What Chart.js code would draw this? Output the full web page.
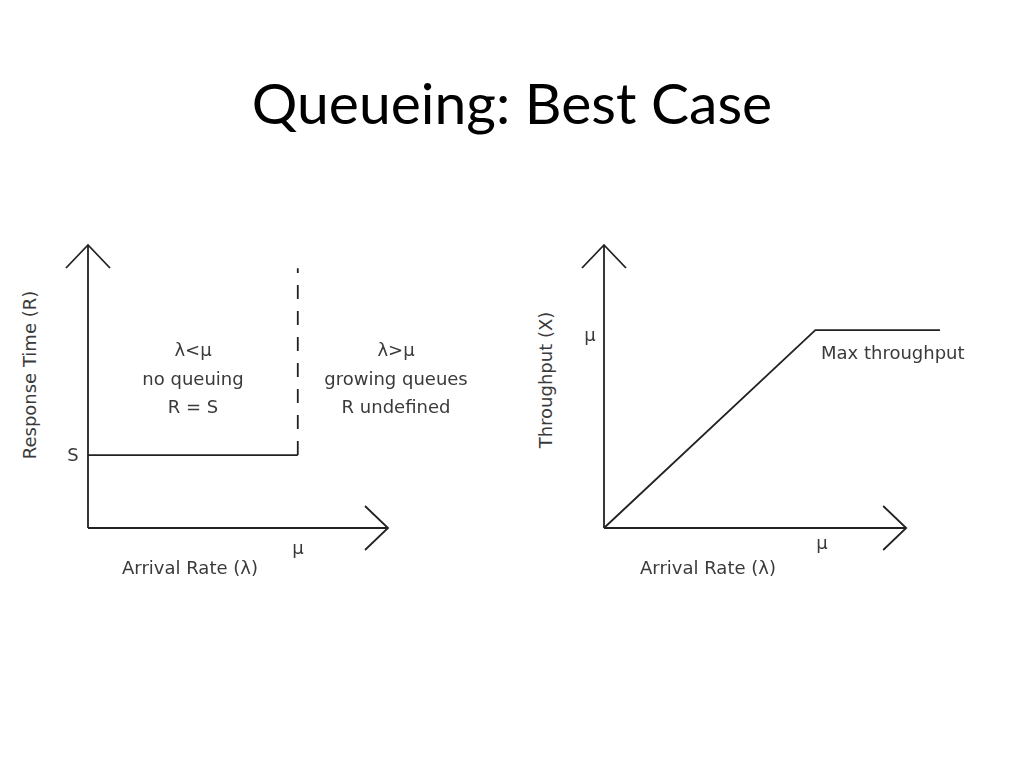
<!DOCTYPE html>
<html><head><meta charset="utf-8">
<script src="https://cdn.jsdelivr.net/npm/chart.js@4"></script>
<style>
body{margin:0;width:1024px;height:768px;background:#fff;position:relative;font-family:"DejaVu Sans",sans-serif;overflow:hidden}
canvas{position:absolute}
.t{position:absolute;color:#3a3a3a;font-size:18px;white-space:nowrap;transform:translate(-50%,-50%);line-height:1}
.l{transform:translate(0,-50%)}
.r{transform:translate(-50%,-50%) rotate(-90deg)}
h1{position:absolute;top:68px;left:0;width:1024px;margin:0;text-align:center;font-family:Lato,"Open Sans",sans-serif;font-weight:400;font-size:57px;color:#000}
</style></head><body>
<h1>Queueing: Best Case</h1>
<div style="position:absolute;left:58px;top:215px;width:360px;height:343px"><canvas id="c1"></canvas></div>
<div style="position:absolute;left:574px;top:215px;width:396px;height:343px"><canvas id="c2"></canvas></div>
<div class="t r" style="left:30px;top:375px">Response Time (R)</div>
<div class="t" style="left:73px;top:455px">S</div>
<div class="t" style="left:193px;top:350px">λ&lt;μ</div>
<div class="t" style="left:193px;top:379px">no queuing</div>
<div class="t" style="left:193px;top:407px">R = S</div>
<div class="t" style="left:396px;top:350px">λ&gt;μ</div>
<div class="t" style="left:396px;top:379px">growing queues</div>
<div class="t" style="left:396px;top:407px">R undefined</div>
<div class="t" style="left:298px;top:548px">μ</div>
<div class="t" style="left:190px;top:568px">Arrival Rate (λ)</div>
<div class="t r" style="left:546px;top:380px">Throughput (X)</div>
<div class="t" style="left:590px;top:335px">μ</div>
<div class="t l" style="left:821px;top:353px">Max throughput</div>
<div class="t" style="left:822px;top:543px">μ</div>
<div class="t" style="left:708px;top:568px">Arrival Rate (λ)</div>
<script>
// Left chart (response time)
const leftX = [0, 1];          // arrival rate (μ = 1)
const leftR = [1, 1];          // response time = S
const dashX = [1, 1];
const dashR = [1, 3.56];
const leftXMax = 1.43, leftYMax = 3.88, leftArrowX = 1.43, leftArrowY = 3.88;
// Right chart (throughput)
const rightX = [0, 1, 1.59];
const rightT = [0, 1, 1];
const rightXMax = 1.59, rightYMax = 1.43, rightArrowX = 1.43, rightArrowY = 1.43;

const arrows = ax => ({
  id:'arrows',
  afterDraw(ch){
    const c=ch.ctx,x=ch.scales.x,y=ch.scales.y;
    const x0=x.getPixelForValue(0),y0=y.getPixelForValue(0);
    const xt=x.getPixelForValue(ax[0]),yt=y.getPixelForValue(ax[1]);
    c.save();c.strokeStyle='#222';c.lineWidth=1.8;c.beginPath();
    c.moveTo(x0,y0);c.lineTo(x0,yt);c.moveTo(x0-22,yt+23);c.lineTo(x0,yt);c.lineTo(x0+22,yt+23);
    c.moveTo(x0,y0);c.lineTo(xt,y0);c.moveTo(xt-23,y0-22);c.lineTo(xt,y0);c.lineTo(xt-23,y0+22);
    c.stroke();c.restore();
  }
});
function mk(id, sets, xmax, ymax, ax){
  new Chart(document.getElementById(id),{
    type:'scatter',
    data:{datasets:sets},
    options:{responsive:true,maintainAspectRatio:false,animation:false,
      layout:{padding:30},
      plugins:{legend:{display:false},tooltip:{enabled:false}},
      scales:{x:{type:'linear',min:0,max:xmax,display:false},y:{type:'linear',min:0,max:ymax,display:false}}},
    plugins:[arrows(ax)]
  });
}
const ds=(xs,ys,extra)=>Object.assign({data:xs.map((v,i)=>({x:v,y:ys[i]})),showLine:true,pointRadius:0,borderColor:'#222',borderWidth:1.8,clip:false},extra||{});
mk('c1',[ds(leftX,leftR),ds(dashX,dashR,{borderDash:[14,12]})],leftXMax,leftYMax,[leftArrowX,leftArrowY]);
mk('c2',[ds(rightX,rightT)],rightXMax,rightYMax,[rightArrowX,rightArrowY]);
</script>
</body></html>
